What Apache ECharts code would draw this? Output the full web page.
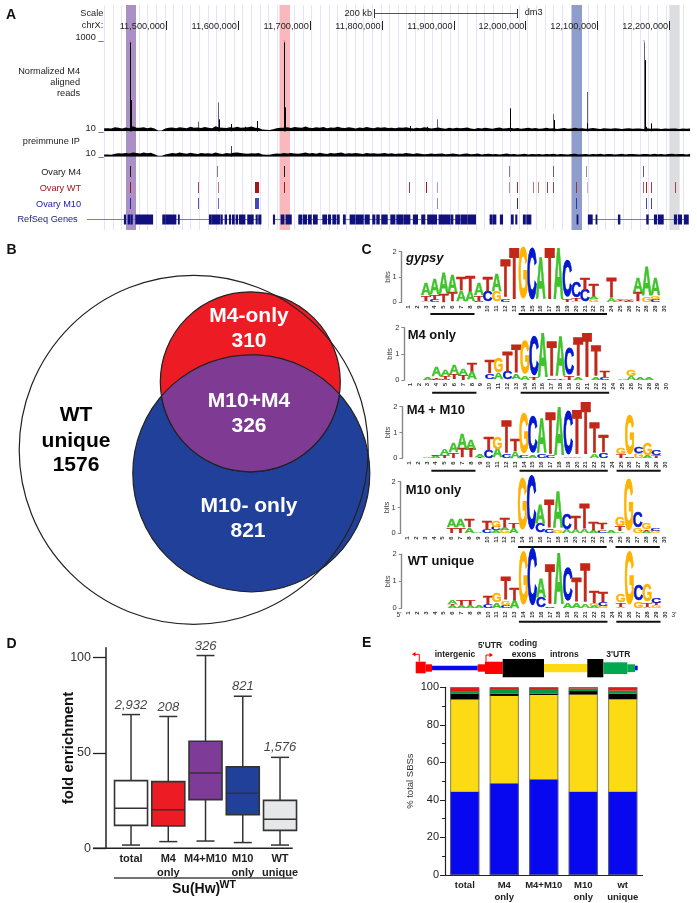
<!DOCTYPE html>
<html><head><meta charset="utf-8">
<style>html,body{margin:0;padding:0;background:#fff}#c{width:697px;height:903px}</style>
<script src="https://cdn.jsdelivr.net/npm/echarts@6/dist/echarts.min.js"></script>
</head><body><div id="c"></div>
<script>
// ---------- Panel A data (genomic positions in kb) ----------
const kbMin = 11414.2, kbMax = 12230.3;
const axisTickKb = [11500,11600,11700,11800,11900,12000,12100,12200];
const axisTickLabels = ['11,500,000','11,600,000','11,700,000','11,800,000','11,900,000','12,000,000','12,100,000','12,200,000'];
const highlightBands = [[11444.4,11458.3],[11657.9,11672.5],[12064.3,12078.7],[12200.1,12214.5]];
const highlightColors = ['#aa90c4','#f9b8bb','#8f9dcc','#dcdddf'];
const signalNoiseStartKb = 11414, noiseStepKb = 5;
const m4Noise = [35,30,45,38,30,42,35,55,40,38,45,35,42,30,10,10,30,38,42,35,45,40,35,50,38,42,36,48,40,35,55,42,38,36,45,40,50,38,42,45,52,40,36,20,16,15,22,34,40,38,44,36,48,42,38,52,40,36,44,38,48,35,42,38,50,40,36,44,38,32,42,36,48,40,35,44,38,46,36,40,34,42,38,46,36,30,40,34,44,38,30,36,42,34,28,38,32,40,34,36,42,30,26,36,32,40,34,28,36,42,30,34,38,32,36,28,34,40,30,36,28,32,38,30,34,26,30,36,28,32,38,30,34,28,32,36,30,26,34,30,28,34,32,26,30,34,28,32,30,26,34,28,30,32,26,30,28,32,30,26,30,28,32,30];
const ipNoise = [28,24,36,42,38,46,40,52,44,38,50,42,48,30,12,12,28,36,44,38,50,42,36,48,40,34,46,38,42,36,50,40,34,44,38,48,52,44,40,36,42,38,46,26,22,24,34,40,36,44,38,46,40,36,42,50,38,44,36,48,40,34,46,38,44,50,36,42,38,46,40,34,44,38,42,36,40,46,36,42,34,40,36,44,38,34,42,36,30,34,38,32,36,40,30,34,38,32,28,36,40,30,34,38,28,32,36,30,34,28,32,38,30,34,28,30,36,28,32,30,34,26,32,30,36,28,34,30,26,32,36,28,30,34,28,32,30,36,28,32,34,28,30,36,28,32,34,30,28,34,32,28,36,30,34,28,32,36,30,34,32,28,34,30];
const m4PeaksBlack = [[11450.3,985],[11451.3,346],[11573.2,133],[11590,80],[11609.9,50],[11626.2,114],[11627.1,114],[11664.6,985],[11665.5,265],[11839,59],[11863,50],[11978,210],[11978.9,254],[12040,125],[12086,88],[12165.9,788],[12168,50],[12175,88]];
const m4PeaksGrey = [[11544.9,106],[11572.8,321],[11877,133],[12038.7,190],[12085.2,435],[12164.9,985]];
const clippedPeaks = [[11450.3,1000],[11664.6,1000],[12164.9,1000]];
const ipPeaks = [[11590,128]];
const trackM4 = [[11450.3,1000],[11572.3,550],[11664.6,1000],[11978.5,550],[12038.7,650],[12085.2,500],[12164.9,700]];
const trackWT = [[11450.3,1000],[11544.9,800],[11572.8,600],[11626.2,1000,3.6],[11664.6,1000],[11838.5,850],[11862.1,1000],[11877,450],[11978.5,500],[11989.2,900],[12011.9,600],[12017.5,600],[12030.4,850],[12038.7,800],[12071.7,800],[12086,350],[12164.4,700],[12168,950],[12175,850],[12208.4,800]];
const trackM10 = [[11450.3,900],[11544.9,750],[11572.8,650],[11626.2,800,3.6],[11877,500],[11989.2,950],[12071.7,800],[12168,800],[12175,800]];
const geneExons = [[11442,11443.9],[11447.2,11449.9],[11451.3,11453.2],[11457.8,11481.5],[11495.4,11499.1],[11500,11513.9],[11517.2,11518.6],[11560.3,11562.6],[11563.5,11575.1],[11576.5,11578.4],[11582.1,11584.4],[11588.1,11590],[11592.3,11595.1],[11597.4,11599.7],[11602,11609.9],[11613.6,11621.5],[11625.2,11627.1],[11628.9,11632.2],[11649.3,11651.2],[11660,11664.2],[11666.9,11674.4],[11684.6,11689.2],[11691.1,11695.7],[11698,11702.2],[11705,11710.5],[11718,11723.5],[11725.8,11729.1],[11731.9,11736.5],[11738.4,11741.1],[11746.7,11749.5],[11756,11762.9],[11764.3,11774.5],[11776.8,11782.9],[11787.5,11790.7],[11793.1,11796.8],[11800,11807.9],[11812.6,11818.6],[11820.9,11825.5],[11825.5,11830.1],[11831.5,11839.4],[11844,11850],[11855.6,11860.2],[11863.9,11876.5],[11879.7,11895],[11896.4,11899.2],[11902.9,11908.9],[11910.3,11918.2],[11919.6,11930.7],[11950.7,11953],[11954.4,11959],[11965,11968.3],[11980.3,11983.1],[11986.4,11988.2],[11997,12000],[12001.7,12007.7],[12071.7,12073.1],[12087.4,12093],[12098.1,12099.5],[12129.2,12131.5],[12168.6,12170.9],[12179.3,12182.5],[12184.8,12191.8],[12207.1,12210.3],[12212.6,12217.3],[12221,12226.6]];
const geneIntrons = [[11390,11481],[11495,11632],[11649,11674],[11684,11741],[11746,11930],[11950,11959],[12087,12226]];
// ---------- Panel B data ----------
const vennBack = [[251.3,238.3,118.5,0],[250.3,146.8,90,1]];
const vennWT = [[193.7,214.8,174.5,2]];
const vennFill = ['#21409a','#ed1c24','none'];
// ---------- Panel C data: bottom-to-top letters and bits at positions 1..30 ----------
const positions = Array.from({length:30},(_,i)=>String(i+1));
const logoGypsy = ['','','G.05 T.18 A.45','C.08 T.2 A.62','T.3 A.8','T.35 A.65','A.42 T.48','A.4 T.6','C.05 T.18 A.45','C.4 T.55','G.38 A.65','C.12 T1.4','T1.9','G1.93','C1.9','A1.55','T1.9','A1.9','T.12 C1.35','G.05 T.1 C.6','C.45 T.45','G.1 A.12 T.45','','A.15 T.75','G.05 T.03 A.06','C.05 T.05 A.04','T.35 A.55','G.2 A1.08','C.1 G.12 A.66',''];
const logoM4 = ['','','A.1','C.05 T.05 A.35','C.03 T.08 A.25','T.2 A.33','T.18 A.23','A.3 T.3','','C.2 T.5','A.25 G.55','C.28 T.72','A.2 T1','A.15 G1.23','T.08 C1.42','A1.63','C.05 T1.26','T.05 A1.44','T.12 C.96','A.07 T1.4','T1.62','A.07 T1.1','C.1 T.26','','A.03','A.12 G.26','A.08','A.1','',''];
const logoM4M10 = ['','','A.05','A.08 C.04','T.1 A.22','T.2 A.34','T.33 A.53','T.32 A.35','T.06 A.08','C.27 T.5','A.33 G.44','C.12 T1.17','A.25 T.46','C.08 G1.47','A.1 C1.32','C.12 A1.3','C.07 T1.54','A1.8','A.05 C1.59','A.05 T1.63','T1.94','A.14 T1.15','C.17 T.64','','T.13 G.26','C.05 G1.43','G.2 C.25','A.1 G.42','T.07 G.05 C.2',''];
const logoM10 = ['','','','','','T.2 A.28','T.2 A.28','A.2 T.28','A.03','C.15 T.28','A.1 C.12 G.26','G.12 A.08 T.32','A.18 T.21','G1.9','C2','C.35 A.68','C.15 T1.05','G.1 A1.32','A.12 C.59','A.12 T.5','A.12 T.94','A.1 T.29','C.1 G.05 T.24','A.08','A.05 T.2 G.35','G1.87','G.2 C.57','A.08 T.05 G.26','G.07 C.1',''];
const logoWT = ['','','','','','A.1 T.05 A.15','A.1 T.17','A.1 T.17','A.07','C.15 T.26','A.2 G.32','C.1 G.15 T.8','A.28 T.4','G1.83','C2','C.35 A.64','C.06 T1.4','A1.81','A.2 C1.18','A.2 T.85','A.12 T1.36','A.08 G.08 T.42','G.08 C.12 T.35','','A.05 T.15 G.26','G1.85','G.25 C.55','A.05 T.15 G.6','G.1 T.07 C.2',''];
const underBarsGypsy = [[4,8],[14,23]];
const underBarsM4 = [[4,8],[14,23]];
const underBarsM4M10 = [[4,8],[14,23],[25,29]];
const underBarsM10 = [[14,23],[25,29]];
const underBarsWT = [[14,23],[25,29]];
// ---------- Panel D data ----------
const boxCategories = ['total','M4\nonly','M4+M10','M10\nonly','WT\nunique'];
const boxMin = [1.7,3.5,3.8,3,1.7];
const boxQ1 = [12,11.7,25.5,17.6,9.4];
const boxMedian = [21,20.2,39.4,28.8,15.2];
const boxQ3 = [35.4,34.9,56,42.6,25.1];
const boxMax = [70,69,100.9,79.6,47.6];
const boxCounts = ['2,932','208','326','821','1,576'];
const boxColors = ['#ffffff','#ed1c24','#7f3b98','#21409a','#e6e7e8'];
// ---------- Panel E data ----------
const featureCategories = ['total','M4\nonly','M4+M10','M10\nonly','wt\nunique'];
const intergenic = [44.5,48.9,51,44.5,44.5];
const introns = [49,46.5,44.9,51.6,49.1];
const codingExons = [3,1.2,.7,1.9,3];
const utr3 = [1.5,2,2,1.3,1.6];
const utr5 = [2,1.4,1.4,.7,1.8];
const totals = [100,100,100,100,100];

const FF = '"Liberation Sans",Arial,sans-serif';
const gridLines = [];
for (let v = kbMin; v < kbMax; v += 12.02) gridLines.push(v);

const grids = [], xAxes = [], yAxes = [], series = [], graphic = [];
function T(text,x,y,size,o){o=o||{};graphic.push({type:'text',x,y,z:100,silent:true,style:{text,fill:o.fill||'#222',font:`${o.style||''} ${o.bold?'bold ':''}${size}px ${FF}`,textAlign:o.align||'left',textVerticalAlign:'middle'},rotation:o.rot||0});}
function R(x,y,w,h,fill){graphic.push({type:'rect',z:90,silent:true,shape:{x,y,width:w,height:h},style:{fill}});}
function L(x1,y1,x2,y2,stroke,lw){graphic.push({type:'line',z:90,silent:true,shape:{x1,y1,x2,y2},style:{stroke,lineWidth:lw}});}
function addGrid(g,x,y){grids.push(Object.assign({containLabel:false},g));xAxes.push(Object.assign({gridIndex:grids.length-1},x));yAxes.push(Object.assign({gridIndex:grids.length-1},y));return grids.length-1;}
function S(idx,o){series.push(Object.assign({xAxisIndex:idx,yAxisIndex:idx,silent:true,animation:false},o));}

// ===== Panel A =====
const kbAxis={type:'value',min:kbMin,max:kbMax,show:false};
const gBg=addGrid({left:104.3,top:5,width:586.7,height:225},
 {type:'value',min:kbMin,max:kbMax,axisLine:{show:false},axisLabel:{show:false},axisTick:{show:false,customValues:gridLines},splitLine:{show:true,lineStyle:{color:'#e3e3ff',width:1}}},
 {type:'value',min:0,max:1,show:false});
S(gBg,{type:'custom',data:highlightBands.map((b,i)=>[b[0],b[1],i]),encode:{x:[0,1]},renderItem:(p,api)=>{
  const a=api.coord([api.value(0),1]),b=api.coord([api.value(1),0]);
  return {type:'rect',shape:{x:a[0],y:a[1],width:b[0]-a[0],height:b[1]-a[1]},style:{fill:highlightColors[api.value(2)]}};}});
S(gBg,{type:'custom',data:axisTickKb.map((k,i)=>[k,i]),encode:{x:0},renderItem:(p,api)=>{
  const a=api.coord([api.value(0),1]);
  const tx=Math.round(a[0])+.5;
  return {type:'group',children:[
   {type:'line',shape:{x1:tx,y1:a[1]+16,x2:tx,y2:a[1]+25},style:{stroke:'#222',lineWidth:1}},
   {type:'text',x:a[0]-1,y:a[1]+21,style:{text:axisTickLabels[api.value(1)],font:`9.2px ${FF}`,fill:'#222',textAlign:'right',textVerticalAlign:'middle'}}]};}});
const peakRender=color=>(p,api)=>{const a=api.coord([api.value(0),0]),b=api.coord([api.value(0),api.value(1)]),x=Math.round(a[0])+.5;
  return {type:'line',shape:{x1:x,y1:a[1],x2:x,y2:b[1]},style:{stroke:color,lineWidth:1}};};
const gSig=addGrid({left:104.3,top:41,width:586.7,height:90.3},kbAxis,{type:'value',min:0,max:1000,show:false});
S(gSig,{type:'line',step:'end',showSymbol:false,lineStyle:{width:0},areaStyle:{color:'#000',opacity:1},data:m4Noise.map((v,i)=>[signalNoiseStartKb+i*noiseStepKb,v])});
S(gSig,{type:'custom',data:m4PeaksGrey,encode:{x:0,y:1},renderItem:peakRender('#666')});
S(gSig,{type:'custom',data:m4PeaksBlack,encode:{x:0,y:1},renderItem:peakRender('#000')});
S(gSig,{type:'scatter',symbol:'rect',symbolSize:[1.5,1.5],itemStyle:{color:'#e85ce8'},data:clippedPeaks});
const gIp=addGrid({left:104.3,top:143,width:586.7,height:13.7},kbAxis,{type:'value',min:0,max:165,show:false});
S(gIp,{type:'line',step:'end',showSymbol:false,lineStyle:{width:0},areaStyle:{color:'#000',opacity:1},data:ipNoise.map((v,i)=>[signalNoiseStartKb+i*noiseStepKb,v])});
S(gIp,{type:'custom',data:ipPeaks,encode:{x:0,y:1},renderItem:peakRender('#444')});
const trackRows=['Ovary M4','Ovary WT','Ovary M10','RefSeq Genes'];
const gTr=addGrid({left:104.3,top:163.5,width:586.7,height:64},kbAxis,{type:'category',data:trackRows,inverse:true,show:false});
const rowRGB=['30,30,30','165,20,25','25,25,170'];
const trackRender=(p,api)=>{const row=api.value(3),c=api.coord([api.value(0),row]),w=api.value(2);
  return {type:'rect',shape:{x:Math.round(c[0]-w/2),y:c[1]-5.5,width:Math.max(1,Math.round(w)),height:11},style:{fill:`rgba(${rowRGB[row]},${api.value(1)/1000})`}};};
[trackM4,trackWT,trackM10].forEach((t,row)=>S(gTr,{type:'custom',data:t.map(d=>[d[0],d[1],d[2]||1,row]),encode:{x:0},renderItem:trackRender}));
S(gTr,{type:'custom',data:geneIntrons.map(d=>[d[0],d[1],3]),encode:{x:[0,1]},renderItem:(p,api)=>{
  const a=api.coord([api.value(0),3]),b=api.coord([api.value(1),3]);
  return {type:'line',shape:{x1:a[0],y1:a[1],x2:b[0],y2:b[1]},style:{stroke:'#7c7cbc',lineWidth:1}};}});
S(gTr,{type:'custom',data:geneExons.map(d=>[d[0],d[1],3]),encode:{x:[0,1]},renderItem:(p,api)=>{
  const a=api.coord([api.value(0),3]),b=api.coord([api.value(1),3]);
  return {type:'rect',shape:{x:a[0]-.4,y:a[1]-5,width:b[0]-a[0]+.8,height:10},style:{fill:'#10107e'}};}});
T('A',6,15,14,{bold:1,fill:'#111'});
T('Scale',103.3,13.3,9.2,{align:'right'});T('chrX:',103.3,25.3,9.2,{align:'right'});
T('1000 _',103.5,37.5,9.2,{align:'right'});T('10 _',103.5,128,9.2,{align:'right'});T('10 _',103.5,153.3,9.2,{align:'right'});
T('Normalized M4',80,71.3,9.2,{align:'right'});T('aligned',80,82.7,9.2,{align:'right'});T('reads',80,93.7,9.2,{align:'right'});
T('preimmune IP',80,141.7,9.2,{align:'right'});
T('Ovary M4',81,172,9.2,{align:'right'});T('Ovary WT',81,188.3,9.2,{align:'right',fill:'#a01515'});T('Ovary M10',81,204.3,9.2,{align:'right',fill:'#1a1aa5'});T('RefSeq Genes',77.7,219.7,9.2,{align:'right',fill:'#1a1a8c'});
T('200 kb',372,13.3,9.2,{align:'right'});T('dm3',524.7,12,9.2);
L(374.7,13.5,517.3,13.5,'#555',1);L(374.5,9,374.5,18,'#333',1);L(517.5,9,517.5,18,'#333',1);

// ===== Panel B =====
const gV=addGrid({left:0,top:235,width:385,height:405},{type:'value',min:0,max:385,show:false},{type:'value',min:0,max:405,inverse:true,show:false});
const circleRender=(p,api)=>{const c=api.coord([api.value(0),api.value(1)]),r=api.size([api.value(2),0])[0];
  return {type:'circle',shape:{cx:c[0],cy:c[1],r},style:{fill:vennFill[api.value(3)],stroke:'#222',lineWidth:1.2}};};
S(gV,{type:'custom',data:vennBack,encode:{x:0,y:1},renderItem:circleRender});
S(gV,{type:'custom',data:[[0]],renderItem:(p,api)=>{
  const A=vennBack[1],B=vennBack[0];
  const ca=api.coord([A[0],A[1]]),cb=api.coord([B[0],B[1]]),ra=api.size([A[2],0])[0],rb=api.size([B[2],0])[0];
  const dx=cb[0]-ca[0],dy=cb[1]-ca[1],d=Math.hypot(dx,dy),a=(ra*ra-rb*rb+d*d)/(2*d),h=Math.sqrt(ra*ra-a*a);
  const mx=ca[0]+a*dx/d,my=ca[1]+a*dy/d;
  const x1=mx-h*dy/d,y1=my+h*dx/d,x2=mx+h*dy/d,y2=my-h*dx/d;
  const left=x1<x2?[x1,y1]:[x2,y2],right=x1<x2?[x2,y2]:[x1,y1];
  return {type:'path',shape:{pathData:`M${left[0]} ${left[1]}A${ra} ${ra} 0 0 0 ${right[0]} ${right[1]}A${rb} ${rb} 0 0 0 ${left[0]} ${left[1]}Z`},style:{fill:'#7f3b94',stroke:'#222',lineWidth:1.2}};}});
S(gV,{type:'custom',data:vennWT,encode:{x:0,y:1},renderItem:circleRender});
T('B',6.5,250,14,{bold:1,fill:'#111'});T('C',361.5,250,14,{bold:1,fill:'#111'});
const W={bold:1,fill:'#fff',align:'center'};
T('M4-only',249,316.7,21,W);T('310',249,341.7,21,W);T('M10+M4',249,401.7,21,W);T('326',249,426.7,21,W);T('M10- only',249,506.7,21,W);T('821',248,531.7,21,W);
const K={bold:1,fill:'#000',align:'center'};
T('WT',76,415,21,K);T('unique',76,441,21,K);T('1576',76,465.7,21,K);

// ===== Panel C =====
const letters=['A','C','G','T'];
const glyphW=[72.2,72.2,77.8,61.1];
const letterColors=['#3cc428','#0018d0','#ffb200','#c2281a'];
const logoRender=(p,api)=>{
  const i=api.value(0),x=api.coord([i,0])[0],y0=api.coord([i,api.value(1)])[1],y1=api.coord([i,api.value(2)])[1],li=api.value(3);
  const band=api.size([1,0])[0],h=y0-y1;
  return {type:'text',x:x,y:(y0+y1)/2,scaleX:band*1.12/glyphW[li],scaleY:h/68.8,
    style:{text:letters[li],font:`bold 100px ${FF}`,fill:letterColors[li],stroke:letterColors[li],lineWidth:3,textAlign:'center',textVerticalAlign:'middle'}};};
const logoRows=logo=>{const rows=[];logo.forEach((s,i)=>{let b=0;s.split(' ').filter(Boolean).forEach(tok=>{const v=parseFloat(tok.slice(1));rows.push([i,b,b+v,letters.indexOf(tok[0])]);b+=v;});});return rows;};
const logoAxisGrey='#888';
function addLogo(logo,bars,left,band,y2,y0,axisOff,title,tx,ty,titleItalic,barDrop){
  const g=addGrid({left,top:y2,width:band*30,height:y0-y2},
   {type:'category',data:positions,axisLine:{show:false},axisTick:{show:false},axisLabel:{interval:0,rotate:90,fontSize:6,fontWeight:'bold',fontFamily:FF,color:'#333',margin:3}},
   {type:'value',min:0,max:2,interval:1,offset:axisOff,splitLine:{show:false},axisLine:{show:true,lineStyle:{color:logoAxisGrey,width:1.4}},axisTick:{show:true,length:3,lineStyle:{color:logoAxisGrey,width:1}},
    axisLabel:{fontSize:7.5,fontFamily:FF,color:'#333',margin:5},name:'bits',nameLocation:'middle',nameGap:10,nameMoveOverlap:false,nameTextStyle:{fontSize:7.5,fontFamily:FF,color:'#444'}});
  S(g,{type:'custom',data:logoRows(logo),encode:{x:0},renderItem:logoRender});
  S(g,{type:'custom',data:bars,renderItem:(p,api)=>{
    const bw=api.size([1,0])[0],a=api.coord([api.value(0)-1,0]),b=api.coord([api.value(1)-1,0]);
    return {type:'line',shape:{x1:a[0]-bw/2,y1:a[1]+barDrop,x2:b[0]+bw/2,y2:a[1]+barDrop},style:{stroke:'#111',lineWidth:2}};}});
  T(title,tx,ty,13,{bold:1,style:titleItalic?'italic':'',fill:'#111'});
}
addLogo(logoGypsy,underBarsGypsy,403.9,8.83,251.7,302.3,2.2,'gypsy',406,258,true,11.7);
addLogo(logoM4,underBarsM4,405.6,8.85,327.7,380,1.3,'M4 only',407.7,335,false,12.7);
addLogo(logoM4M10,underBarsM4M10,404.9,8.82,406.7,458.3,2.5,'M4 + M10',406.7,410.7,false,12.4);
addLogo(logoM10,underBarsM10,402.9,8.86,481.7,533.3,2.2,'M10 only',405.7,490,false,13.7);
addLogo(logoWT,underBarsWT,403.9,8.85,554.3,608.3,2.2,'WT unique',407.7,561,false,13.4);
T("5'",399,615,6.5,{align:'center',fill:'#333'});T("3'",674,615,6.5,{align:'center',fill:'#333'});

// ===== Panel D =====
const gD=addGrid({left:112.4,top:647.7,width:186.25,height:200.6},
 {type:'category',data:boxCategories,axisLine:{show:false},axisTick:{show:false},axisLabel:{interval:0,fontSize:11,fontWeight:'bold',fontFamily:FF,color:'#222',lineHeight:14,margin:4}},
 {type:'value',min:0,max:105,offset:6.4,splitLine:{show:false},axisLine:{show:true,lineStyle:{color:'#222',width:1.5}},
  axisTick:{show:true,length:13,customValues:[0,50,100],lineStyle:{color:'#222',width:1.3}},
  axisLabel:{customValues:[0,50,100],fontSize:12.5,fontFamily:FF,color:'#333',margin:15},
  name:'fold enrichment',nameLocation:'middle',nameGap:29.5,nameMoveOverlap:false,nameTextStyle:{fontSize:15,fontWeight:'bold',fontFamily:FF,color:'#111'}});
S(gD,{type:'custom',data:boxCategories.map((c,i)=>[i,boxMin[i],boxQ1[i],boxMedian[i],boxQ3[i],boxMax[i]]),encode:{x:0,y:[1,5]},renderItem:(p,api)=>{
  const i=api.value(0),Y=k=>api.coord([i,api.value(k)]),x=Y(1)[0],ymin=Y(1)[1],q1=Y(2)[1],m=Y(3)[1],q3=Y(4)[1],ymax=Y(5)[1];
  const ln=(a,b,c,d,lw)=>({type:'line',shape:{x1:a,y1:b,x2:c,y2:d},style:{stroke:'#333',lineWidth:lw||1.5}});
  return {type:'group',children:[ln(x,ymax,x,ymin),ln(x-9,ymax,x+9,ymax),ln(x-9,ymin,x+9,ymin),
   {type:'rect',shape:{x:x-16.5,y:q3,width:33,height:q1-q3},style:{fill:boxColors[i],stroke:'#333',lineWidth:1.6}},
   ln(x-16.5,m,x+16.5,m,1.6)]};}});
S(gD,{type:'scatter',symbolSize:0,data:boxCategories.map((c,i)=>[i,boxMax[i]]),label:{show:true,position:'top',distance:3,fontSize:13,fontStyle:'italic',fontFamily:FF,color:'#111',formatter:p=>boxCounts[p.dataIndex]}});
T('D',6.5,644,14,{bold:1,fill:'#111'});
L(93,848.3,292.7,848.3,'#222',1.5);
L(114,878,292.7,878,'#444',1.5);
T('Su(Hw)',172,889,14,{bold:1,fill:'#111'});T('WT',219.5,885,10.5,{bold:1,fill:'#111'});

// ===== Panel E =====
const gE=addGrid({left:445,top:687.3,width:197.5,height:188.4},
 {type:'category',data:featureCategories,axisLine:{show:true,lineStyle:{color:'#222',width:1.2}},axisTick:{show:false},axisLabel:{interval:0,fontSize:9.5,fontWeight:'bold',fontFamily:FF,color:'#222',lineHeight:12,margin:4}},
 {type:'value',min:0,max:100,interval:20,splitLine:{show:false},axisLine:{show:true,lineStyle:{color:'#222',width:1.2}},axisTick:{show:true,length:5,lineStyle:{color:'#222'}},
  minorTick:{show:true,splitNumber:2,length:3,lineStyle:{color:'#222'}},axisLabel:{fontSize:11,fontFamily:FF,color:'#222',margin:6},
  name:'% total SBSs',nameLocation:'middle',nameGap:29.5,nameMoveOverlap:false,nameTextStyle:{fontSize:9.5,fontFamily:FF,color:'#333'}});
[[intergenic,'#0808f0'],[introns,'#fddb14'],[codingExons,'#000'],[utr3,'#009a44'],[utr5,'#ee1111']].forEach(([d,c])=>S(gE,{type:'bar',stack:'f',barWidth:29,data:d,itemStyle:{color:c}}));
S(gE,{type:'bar',barWidth:29,barGap:'-100%',data:totals,z:5,itemStyle:{color:'rgba(0,0,0,0)',borderColor:'#666',borderWidth:.8}});
T('E',362,643,14,{bold:1,fill:'#111'});
R(415.7,661.7,10,11.6,'#f00');R(425.7,664.3,6.3,7.4,'#f00');R(432,665.7,45.7,4.6,'#0808f0');R(477.7,664.3,7.3,7.4,'#f00');R(485,661.7,17.7,12.3,'#f00');
R(502.7,659,41.3,18.3,'#000');R(544,664,43.3,8.3,'#fddb14');R(587.3,659,16,18.3,'#000');R(603.3,662.3,24,11.7,'#00a84f');R(627.3,664.3,7.7,7.8,'#00a84f');R(635,665.7,2.7,4.6,'#0808f0');
L(419.3,661.7,419.3,654.3,'#f00',1);L(419.3,654.3,415,654.3,'#f00',1);
graphic.push({type:'polygon',z:90,silent:true,shape:{points:[[412,654.3],[415.5,652],[415.5,656.6]]},style:{fill:'#f00'}});
L(486,661.7,486,655,'#f00',1);L(486,655,490,655,'#f00',1);
graphic.push({type:'polygon',z:90,silent:true,shape:{points:[[493,655],[489.5,652.7],[489.5,657.3]]},style:{fill:'#f00'}});
const B={bold:1,align:'center',fill:'#222'};
T('intergenic',455,655,8.5,B);T("5'UTR",490,646,8.5,B);T('coding',523.3,644,8.5,B);T('exons',524,654.3,8.5,B);T('introns',564.3,655,8.5,B);T("3'UTR",618.3,655,8.5,B);

const chart=echarts.init(document.getElementById('c'),null,{renderer:'canvas'});
chart.setOption({animation:false,backgroundColor:'#fff',tooltip:{show:false},legend:{show:false},grid:grids,xAxis:xAxes,yAxis:yAxes,series,graphic:{elements:graphic}});
</script></body></html>
